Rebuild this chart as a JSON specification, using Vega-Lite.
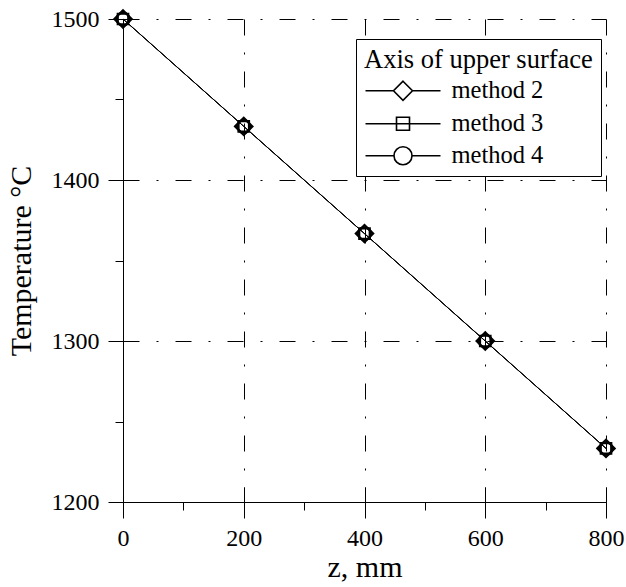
{
  "$schema": "https://vega.github.io/schema/vega-lite/v6.json",
  "width": 483,
  "height": 483,
  "autosize": {"type": "none"},
  "padding": {"left": 123, "top": 19, "right": 20, "bottom": 85},
  "background": "white",
  "config": {
    "font": "Liberation Serif",
    "view": {"stroke": null},
    "axis": {
      "tickColor": "black",
      "domainColor": "black",
      "labelColor": "black",
      "titleColor": "black",
      "gridColor": "black",
      "gridOpacity": 1,
      "gridDash": [16, 17, 2, 17],
      "gridWidth": 1,
      "labelFlush": false,
      "labelOverlap": false,
      "labelFont": "Liberation Serif",
      "titleFont": "Liberation Serif"
    },
    "legend": {"labelFont": "Liberation Serif", "titleFont": "Liberation Serif"}
  },
  "data": {
    "values": [
      {"z": 0, "t": 1500, "method": "method 2"},
      {"z": 200, "t": 1433.3, "method": "method 2"},
      {"z": 400, "t": 1366.7, "method": "method 2"},
      {"z": 600, "t": 1300, "method": "method 2"},
      {"z": 800, "t": 1233.3, "method": "method 2"},
      {"z": 0, "t": 1500, "method": "method 3"},
      {"z": 200, "t": 1433.3, "method": "method 3"},
      {"z": 400, "t": 1366.7, "method": "method 3"},
      {"z": 600, "t": 1300, "method": "method 3"},
      {"z": 800, "t": 1233.3, "method": "method 3"},
      {"z": 0, "t": 1500, "method": "method 4"},
      {"z": 200, "t": 1433.3, "method": "method 4"},
      {"z": 400, "t": 1366.7, "method": "method 4"},
      {"z": 600, "t": 1300, "method": "method 4"},
      {"z": 800, "t": 1233.3, "method": "method 4"}
    ]
  },
  "layer": [
    {
      "mark": {"type": "line", "color": "black", "strokeWidth": 1},
      "encoding": {
        "x": {
          "field": "z", "type": "quantitative",
          "scale": {"domain": [0, 800], "nice": false},
          "axis": {
            "values": [0, 200, 400, 600, 800], "format": "d",
            "grid": true, "tickSize": 16,
            "labelFontSize": 24, "labelPadding": 8,
            "title": "z, mm", "titleFontSize": 30, "titleFontWeight": "normal", "titlePadding": 2
          }
        },
        "y": {
          "field": "t", "type": "quantitative",
          "scale": {"domain": [1200, 1500], "nice": false, "zero": false},
          "axis": {
            "values": [1200, 1300, 1400, 1500], "format": "d",
            "grid": true, "tickSize": 15,
            "labelFontSize": 24, "labelPadding": 9,
            "title": "Temperature °C", "titleFontSize": 30, "titleFontWeight": "normal", "titlePadding": 15
          }
        },
        "detail": {"field": "method", "type": "nominal"}
      }
    },
    {
      "mark": {"type": "point", "filled": false, "color": "black", "strokeWidth": 2.2, "opacity": 1},
      "encoding": {
        "x": {"field": "z", "type": "quantitative", "axis": null},
        "y": {"field": "t", "type": "quantitative", "axis": null},
        "shape": {
          "field": "method", "type": "nominal",
          "scale": {"domain": ["method 2", "method 3", "method 4"], "range": ["diamond", "square", "circle"]},
          "legend": null
        },
        "size": {
          "condition": [
            {"test": "datum.method === 'method 2'", "value": 300},
            {"test": "datum.method === 'method 3'", "value": 110}
          ],
          "value": 160
        }
      }
    },
    {
      "transform": [{"filter": "datum.z < 0"}],
      "mark": {"type": "point", "filled": false, "color": "black", "strokeWidth": 1.5, "opacity": 1},
      "encoding": {
        "x": {"field": "z", "type": "quantitative", "axis": null},
        "y": {"field": "t", "type": "quantitative", "axis": null},
        "shape": {
          "field": "method", "type": "nominal",
          "scale": {
            "domain": ["method 2", "method 3", "method 4"],
            "range": [
              "M-1.075,0H1.725M3.625,0H6.425M2.675,-0.95L3.625,0L2.675,0.95L1.725,0Z",
              "M-1.075,0H6.425M2.025,-0.65H3.325V0.65H2.025Z",
              "M-1.075,0H1.775M3.575,0H6.425M1.775,0A0.9,0.9,0,1,1,3.575,0A0.9,0.9,0,1,1,1.775,0Z"
            ]
          },
          "legend": {
            "orient": "none", "legendX": 233, "legendY": 20,
            "title": "Axis of upper surface", "titleLimit": 400,
            "titleFontSize": 26.5, "titleFontWeight": "normal", "titleColor": "black", "titlePadding": 5,
            "labelFontSize": 24.5, "labelColor": "black", "labelLimit": 300,
            "strokeColor": "black", "fillColor": "white", "padding": 8,
            "symbolSize": 400, "symbolStrokeWidth": 1.6, "symbolStrokeColor": "black",
            "rowPadding": 7, "labelOffset": 63
          }
        }
      }
    },
    {
      "mark": {"type": "point", "opacity": 0},
      "encoding": {
        "x": {"field": "z", "type": "quantitative",
          "axis": {"orient": "bottom", "values": [0, 200, 400, 600, 800], "tickSize": -15, "labels": false, "domain": false, "grid": false, "title": null}},
        "y": {"field": "t", "type": "quantitative",
          "axis": {"orient": "left", "values": [1200, 1300, 1400, 1500], "tickSize": -15, "labels": false, "domain": false, "grid": false, "title": null}}
      }
    },
    {
      "mark": {"type": "point", "opacity": 0},
      "encoding": {
        "x": {"field": "z", "type": "quantitative",
          "axis": {"orient": "bottom", "values": [100, 300, 500, 700], "tickSize": 8, "labels": false, "domain": false, "grid": false, "title": null}},
        "y": {"field": "t", "type": "quantitative",
          "axis": {"orient": "left", "values": [1250, 1350, 1450], "tickSize": 8, "labels": false, "domain": false, "grid": false, "title": null}}
      }
    }
  ],
  "resolve": {"scale": {"shape": "independent"}, "axis": {"x": "independent", "y": "independent"}}
}
